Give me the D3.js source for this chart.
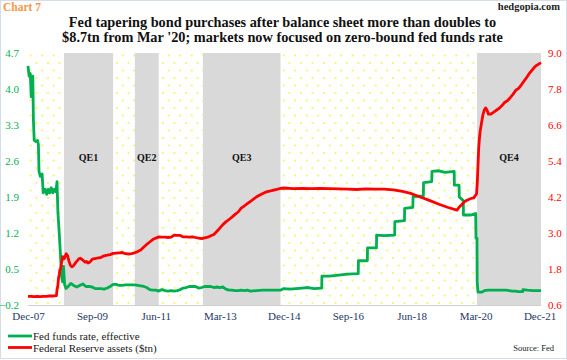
<!DOCTYPE html>
<html><head><meta charset="utf-8">
<script src="https://cdn.jsdelivr.net/npm/d3@7"></script>
<style>
html,body{margin:0;padding:0;background:#fff;}
svg{display:block;font-family:"Liberation Serif","Times New Roman",serif;}
</style></head>
<body>
<svg id="c" width="567" height="360"></svg>
<script>
// ---------- DATA ----------
const titleLines = ["Fed tapering bond purchases after balance sheet more than doubles to",
                    "$8.7tn from Mar '20; markets now focused on zero-bound fed funds rate"];
const xTickLabels = ["Dec-07","Sep-09","Jun-11","Mar-13","Dec-14","Sep-16","Jun-18","Mar-20","Dec-21"];
const leftTicks = [-0.2,0.5,1.2,1.9,2.6,3.3,4.0,4.7];
const rightTicks = [0.6,1.8,3.0,4.2,5.4,6.6,7.8,9.0];
const qeNames = ["QE1","QE2","QE3","QE4"];
const qeStart = ["2008-11-25","2010-11-03","2012-09-13","2020-03-15"];
const qeEnd   = ["2010-03-31","2011-06-30","2014-10-29","2021-12-15"];

const ffDates = ["2007-12-01","2007-12-12","2007-12-24","2008-01-02","2008-01-09","2008-01-18","2008-01-24","2008-02-01","2008-02-15","2008-03-05","2008-03-14","2008-03-20","2008-04-02","2008-04-20","2008-05-01","2008-05-20","2008-06-05","2008-06-20","2008-07-05","2008-07-20","2008-08-05","2008-08-20","2008-09-05","2008-09-16","2008-09-25","2008-10-08","2008-10-20","2008-11-01","2008-11-10","2008-11-20","2008-12-01","2008-12-15",
"2009-01-01","2009-02-01","2009-03-01","2009-04-01","2009-05-01","2009-06-01","2009-07-01","2009-08-01","2009-09-01","2009-10-01","2009-11-01","2009-12-01",
"2010-01-01","2010-02-01","2010-03-01","2010-04-01","2010-05-01","2010-06-01","2010-07-01","2010-08-01","2010-09-01","2010-10-01","2010-11-01","2010-12-01",
"2011-01-01","2011-02-01","2011-03-01","2011-04-01","2011-05-01","2011-06-01","2011-07-01","2011-08-01","2011-09-01","2011-10-01","2011-11-01","2011-12-01",
"2012-01-01","2012-02-01","2012-03-01","2012-04-01","2012-05-01","2012-06-01","2012-07-01","2012-08-01","2012-09-01","2012-10-01","2012-11-01","2012-12-01",
"2013-01-01","2013-02-01","2013-03-01","2013-04-01","2013-05-01","2013-06-01","2013-07-01","2013-08-01","2013-09-01","2013-10-01","2013-11-01","2013-12-01",
"2014-01-01","2014-03-01","2014-05-01","2014-07-01","2014-09-01","2014-11-01","2014-12-01",
"2015-02-01","2015-04-01","2015-06-01","2015-08-01","2015-10-01","2015-12-15","2015-12-17",
"2016-03-01","2016-06-01","2016-09-01","2016-12-14","2016-12-16",
"2017-03-15","2017-03-17","2017-06-14","2017-06-16","2017-09-01","2017-12-13","2017-12-15",
"2018-03-21","2018-03-23","2018-06-13","2018-06-15","2018-09-26","2018-09-28","2018-12-19","2018-12-21",
"2019-03-01","2019-05-01","2019-07-31","2019-08-02","2019-09-18","2019-09-20","2019-10-30","2019-11-01",
"2020-01-15","2020-03-02","2020-03-05","2020-03-15","2020-03-17","2020-03-25","2020-05-01","2020-06-01","2020-07-01","2020-09-01","2020-11-01",
"2021-01-01","2021-02-01","2021-03-01","2021-04-01","2021-05-01","2021-06-16","2021-06-18","2021-08-01","2021-10-01","2021-12-15"];
const ffRates = [4.45,4.25,4.30,3.85,4.20,4.25,3.40,3.00,2.98,3.00,2.92,2.40,2.30,2.35,1.98,2.05,1.95,2.05,1.98,2.08,1.98,2.05,2.00,2.20,1.60,1.20,0.80,0.35,0.25,0.55,0.20,0.12,
0.15,0.22,0.18,0.15,0.18,0.21,0.16,0.16,0.15,0.12,0.12,0.12,
0.11,0.13,0.16,0.20,0.20,0.18,0.18,0.19,0.19,0.19,0.19,0.18,
0.17,0.16,0.14,0.10,0.09,0.09,0.07,0.10,0.08,0.07,0.08,0.07,
0.08,0.10,0.13,0.14,0.16,0.16,0.16,0.13,0.14,0.16,0.16,0.16,
0.14,0.15,0.14,0.15,0.11,0.09,0.09,0.08,0.08,0.09,0.08,0.09,
0.07,0.08,0.09,0.09,0.09,0.09,0.12,
0.11,0.12,0.13,0.14,0.12,0.13,0.36,
0.36,0.38,0.40,0.41,0.66,
0.66,0.91,0.91,1.16,1.15,1.16,1.42,
1.44,1.68,1.70,1.91,1.92,2.18,2.20,2.40,
2.41,2.38,2.40,2.13,2.13,1.90,1.83,1.55,
1.55,1.58,1.10,1.10,0.25,0.05,0.05,0.08,0.09,0.09,0.09,
0.09,0.08,0.07,0.07,0.06,0.06,0.10,0.09,0.08,0.08];

const assetDates = ["2007-12-01","2008-01-01","2008-02-01","2008-03-01","2008-04-01","2008-05-01","2008-06-01","2008-07-01","2008-08-01","2008-09-10","2008-09-17","2008-09-24","2008-10-01","2008-10-08","2008-10-15","2008-10-22","2008-10-29","2008-11-05","2008-11-12","2008-11-19","2008-11-26","2008-12-03","2008-12-17","2008-12-31",
"2009-01-14","2009-01-28","2009-02-11","2009-02-25","2009-03-11","2009-03-25","2009-04-08","2009-04-22","2009-05-06","2009-05-20","2009-06-03","2009-06-24","2009-07-08","2009-07-22","2009-08-05","2009-08-19","2009-09-02","2009-09-16","2009-10-07","2009-11-04","2009-12-02","2009-12-30",
"2010-02-01","2010-03-01","2010-04-01","2010-05-01","2010-06-01","2010-07-01","2010-08-01","2010-09-01","2010-10-01","2010-11-01","2010-12-01",
"2011-01-01","2011-02-01","2011-03-01","2011-04-01","2011-05-01","2011-06-01","2011-07-01","2011-08-01","2011-09-01","2011-10-01","2011-11-01","2011-12-01",
"2012-01-01","2012-02-01","2012-03-01","2012-04-01","2012-05-01","2012-06-01","2012-07-01","2012-08-01","2012-09-01","2012-10-01","2012-11-01","2012-12-01",
"2013-01-01","2013-02-01","2013-03-01","2013-04-01","2013-05-01","2013-06-01","2013-07-01","2013-08-01","2013-09-01","2013-10-01","2013-11-01","2013-12-01",
"2014-01-01","2014-02-01","2014-03-01","2014-04-01","2014-05-01","2014-06-01","2014-07-01","2014-08-01","2014-09-01","2014-10-01","2014-11-01","2014-12-01",
"2015-03-01","2015-06-01","2015-09-01","2015-12-01","2016-03-01","2016-06-01","2016-09-01","2016-12-01","2017-03-01","2017-06-01","2017-09-01","2017-12-01",
"2018-03-01","2018-06-01","2018-09-01","2018-12-01","2019-03-01","2019-06-01","2019-08-28","2019-09-18","2019-10-16","2019-11-13","2019-12-11",
"2020-01-15","2020-02-12","2020-03-11","2020-03-18","2020-03-25","2020-04-01","2020-04-08","2020-04-15","2020-04-29","2020-05-13","2020-05-27","2020-06-10","2020-06-24","2020-07-08","2020-07-29","2020-08-26","2020-09-23","2020-10-21","2020-11-18","2020-12-16",
"2021-01-13","2021-02-10","2021-03-10","2021-04-07","2021-05-05","2021-06-02","2021-06-30","2021-07-28","2021-08-25","2021-09-22","2021-10-20","2021-11-17","2021-12-15"];
const assetValues = [0.89,0.89,0.88,0.89,0.88,0.89,0.89,0.90,0.90,0.91,1.13,1.23,1.49,1.61,1.78,1.80,1.97,2.07,2.21,2.14,2.14,2.19,2.31,2.24,
2.06,1.92,1.87,1.90,1.96,2.03,2.08,2.14,2.16,2.13,2.09,2.03,2.05,2.00,2.02,2.06,2.12,2.14,2.15,2.17,2.19,2.24,
2.26,2.28,2.32,2.33,2.34,2.35,2.31,2.30,2.31,2.34,2.38,
2.43,2.53,2.62,2.70,2.78,2.83,2.87,2.86,2.86,2.85,2.86,2.93,
2.92,2.92,2.87,2.87,2.86,2.87,2.85,2.83,2.81,2.84,2.86,2.91,
2.95,3.06,3.16,3.28,3.37,3.45,3.53,3.62,3.70,3.83,3.90,3.98,
4.05,4.13,4.20,4.26,4.31,4.36,4.39,4.41,4.44,4.46,4.49,4.50,
4.48,4.49,4.48,4.49,4.48,4.47,4.46,4.45,4.47,4.46,4.46,4.44,
4.39,4.31,4.19,4.08,3.96,3.85,3.76,3.86,3.95,4.05,4.10,
4.15,4.17,4.31,4.67,5.25,5.81,6.13,6.37,6.66,6.93,7.10,7.17,7.09,6.96,6.96,7.02,7.09,7.15,7.24,7.35,
7.41,7.51,7.62,7.76,7.82,7.94,8.07,8.20,8.34,8.45,8.56,8.62,8.68];

// ---------- LAYOUT ----------
const W = 567, H = 360;
const plot = {l:28, r:541, t:53, b:305};
const parse = d3.timeParse("%Y-%m-%d");
const parseLab = d3.timeParse("%b-%y");
const svg = d3.select("#c");

const x = d3.scaleTime().domain([parse("2007-12-01"), parse("2021-12-15")]).range([plot.l, plot.r]);
const yL = d3.scaleLinear().domain([-0.2, 4.7]).range([plot.b, plot.t]);
const yR = d3.scaleLinear().domain([0.6, 9.0]).range([plot.b, plot.t]);

// outer border
svg.append("rect").attr("x",0.5).attr("y",0.5).attr("width",W-1).attr("height",H-2)
  .attr("fill","#fff").attr("stroke","#d5dde8");

// dotted pattern
const defs = svg.append("defs");
const pat = defs.append("pattern").attr("id","dots").attr("patternUnits","userSpaceOnUse")
  .attr("width",11.5).attr("height",15);
pat.append("rect").attr("width",11.5).attr("height",15).attr("fill","#fff");
pat.append("circle").attr("cx",2).attr("cy",3).attr("r",0.9).attr("fill","#f2f24a");
pat.append("circle").attr("cx",7.75).attr("cy",10.5).attr("r",0.9).attr("fill","#f2f24a");

svg.append("rect").attr("x",plot.l).attr("y",plot.t).attr("width",plot.r-plot.l).attr("height",plot.b-plot.t)
  .attr("fill","url(#dots)");

// QE bands
const qe = qeNames.map((n,i)=>({name:n, s:parse(qeStart[i]), e:parse(qeEnd[i])}));
svg.selectAll(".qe").data(qe).join("rect")
  .attr("x",d=>x(d.s)).attr("y",plot.t).attr("width",d=>Math.min(x(d.e),plot.r)-x(d.s))
  .attr("height",plot.b-plot.t).attr("fill","#d9d9d9");
svg.selectAll(".qel").data(qe).join("text")
  .attr("x",d=>(x(d.s)+Math.min(x(d.e),plot.r))/2).attr("y",161)
  .attr("text-anchor","middle").attr("font-size",10).attr("font-weight","bold").attr("fill","#111")
  .text(d=>d.name);

// bottom axis line
svg.append("line").attr("x1",plot.l).attr("x2",plot.r).attr("y1",plot.b+0.5).attr("y2",plot.b+0.5)
  .attr("stroke","#d0d0d0");

// lines
const ff = ffDates.map((d,i)=>({t:parse(d), v:ffRates[i]}));
const fa = assetDates.map((d,i)=>({t:parse(d), v:assetValues[i]}));
svg.append("path").datum(ff).attr("fill","none").attr("stroke","#00b050").attr("stroke-width",2.8)
  .attr("stroke-linejoin","round")
  .attr("d", d3.line().x(d=>x(d.t)).y(d=>yL(d.v)));
svg.append("path").datum(fa).attr("fill","none").attr("stroke","#ff0000").attr("stroke-width",2.8)
  .attr("stroke-linejoin","round")
  .attr("d", d3.line().x(d=>x(d.t)).y(d=>yR(d.v)));

// axes
const axL = svg.append("g").attr("transform",`translate(${plot.l-6},0)`)
  .call(d3.axisLeft(yL).tickValues(leftTicks).tickFormat(d3.format(".1f")).tickSize(0));
axL.select(".domain").remove();
axL.selectAll("text").attr("fill","#00b050").attr("font-size",11).attr("font-family","Liberation Serif");

const axR = svg.append("g").attr("transform",`translate(${plot.r+4},0)`)
  .call(d3.axisRight(yR).tickValues(rightTicks).tickFormat(d3.format(".1f")).tickSize(0));
axR.select(".domain").remove();
axR.selectAll("text").attr("fill","#ff0000").attr("font-size",11).attr("font-family","Liberation Serif");

const fmtLab = d3.timeFormat("%b-%y");
const axB = svg.append("g").attr("transform",`translate(0,${plot.b+4})`)
  .call(d3.axisBottom(x).tickValues(xTickLabels.map(parseLab)).tickFormat(fmtLab).tickSize(0));
axB.select(".domain").remove();
axB.selectAll("text").attr("fill","#1f3864").attr("font-size",11).attr("font-family","Liberation Serif");

// titles
svg.append("text").attr("x",3).attr("y",11).attr("font-size",11.5).attr("font-weight","bold")
  .attr("fill","#f79646").text("Chart 7");
svg.append("text").attr("x",560).attr("y",10).attr("text-anchor","end").attr("font-size",10.5)
  .attr("font-weight","bold").attr("fill","#222").text("hedgopia.com");
svg.selectAll(".title").data(titleLines).join("text")
  .attr("x",282.5).attr("y",(d,i)=>27+i*15).attr("text-anchor","middle")
  .attr("font-size",14.3).attr("font-weight","bold").attr("fill","#111").text(d=>d);

// legend
const legend = [{label:"Fed funds rate, effective", color:"#00b050"},{label:"Federal Reserve assets ($tn)", color:"#ff0000"}];
const lg = svg.selectAll(".lg").data(legend).join("g").attr("transform",(d,i)=>`translate(8,${336+i*11.5})`);
lg.append("line").attr("x1",0).attr("x2",24).attr("stroke",d=>d.color).attr("stroke-width",2.8);
lg.append("text").attr("x",25).attr("y",4).attr("font-size",11).attr("fill","#1a1a1a").text(d=>d.label);

svg.append("text").attr("x",554).attr("y",351).attr("text-anchor","end").attr("font-size",8.5)
  .attr("fill","#222").text("Source: Fed");
</script>
</body></html>
